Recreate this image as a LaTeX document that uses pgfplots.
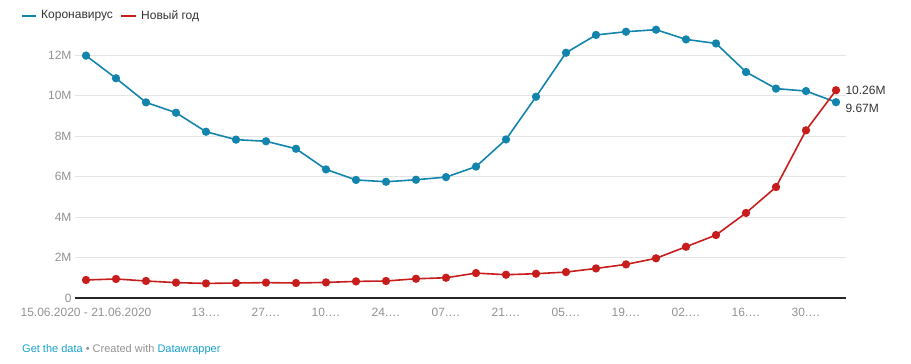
\documentclass[border=0pt]{standalone}
\usepackage{fontspec}
\setmainfont{Liberation Sans}
\usepackage{pgfplots}
\pgfplotsset{compat=1.18}
\definecolor{cblue}{HTML}{1385AD}
\definecolor{cred}{HTML}{C71E1D}
\definecolor{tickgray}{HTML}{929292}
\definecolor{txt}{HTML}{333333}
\definecolor{gridc}{HTML}{E4E4E4}
\definecolor{linkc}{HTML}{18A1CD}
\begin{document}
\begin{tikzpicture}
\path[use as bounding box] (0pt,0pt) rectangle (911pt,-364pt);
\begin{axis}[
  at={(75pt,-298pt)}, anchor=south west,
  scale only axis, width=771pt, height=283.5pt,
  xmin=-0.367, xmax=25.333, ymin=0, ymax=14,
  axis x line=bottom, axis y line=left,
  x axis line style={-, draw=black!85, line width=1.1pt},
  y axis line style={draw=none},
  major tick length=0pt,
  xtick={0,4,6,8,10,12,14,16,18,20,22,24},
  xticklabels={15.06.2020 - 21.06.2020,13.…,27.…,10.…,24.…,07.…,21.…,05.…,19.…,02.…,16.…,30.…},
  ytick={0,2,4,6,8,10,12},
  yticklabels={0,2M,4M,6M,8M,10M,12M},
  ymajorgrids, grid style={gridc, line width=0.8pt},
  tick label style={font=\fontsize{12}{14}\selectfont, text=tickgray},
  xticklabel style={yshift=-7pt},
  clip=false,
]
\addplot[cblue, line width=1.6pt, mark=*, mark size=3.3pt, mark options={fill=cblue, draw=cblue}] coordinates {
(0,11.97) (1,10.85) (2,9.66) (3,9.15) (4,8.21) (5,7.82) (6,7.74) (7,7.37) (8,6.35) (9,5.83)
(10,5.74) (11,5.84) (12,5.97) (13,6.49) (14,7.83) (15,9.94) (16,12.11) (17,12.99) (18,13.15) (19,13.25)
(20,12.77) (21,12.57) (22,11.16) (23,10.34) (24,10.22) (25,9.67)
};
\addplot[cred, line width=1.6pt, mark=*, mark size=3.3pt, mark options={fill=cred, draw=cred}] coordinates {
(0,0.89) (1,0.94) (2,0.84) (3,0.76) (4,0.72) (5,0.74) (6,0.76) (7,0.74) (8,0.77) (9,0.82)
(10,0.84) (11,0.95) (12,1.00) (13,1.23) (14,1.15) (15,1.20) (16,1.28) (17,1.46) (18,1.66) (19,1.96)
(20,2.53) (21,3.11) (22,4.20) (23,5.48) (24,8.28) (25,10.26)
};
\node[anchor=west, text=txt, font=\fontsize{12}{14}\selectfont, xshift=6pt] at (axis cs:25,10.26) {10.26M};
\node[anchor=west, text=txt, font=\fontsize{12}{14}\selectfont, xshift=6pt, yshift=-6pt] at (axis cs:25,9.67) {9.67M};
\end{axis}
\draw[cblue, line width=2pt] (22pt,-16pt) -- (36pt,-16pt);
\node[anchor=west, text=txt, font=\fontsize{12}{14}\selectfont, inner sep=0pt] at (41pt,-16pt) {Коронавирус};
\draw[cred, line width=2pt] (121pt,-16pt) -- (136pt,-16pt);
\node[anchor=west, text=txt, font=\fontsize{12}{14}\selectfont, inner sep=0pt] at (141pt,-16pt) {Новый год};
\node[anchor=base west, inner sep=0pt, font=\fontsize{11}{13}\selectfont] at (22pt,-352pt) {\textcolor{linkc}{Get the data} \textcolor{tickgray}{• Created with} \textcolor{linkc}{Datawrapper}};
\end{tikzpicture}
\end{document}
